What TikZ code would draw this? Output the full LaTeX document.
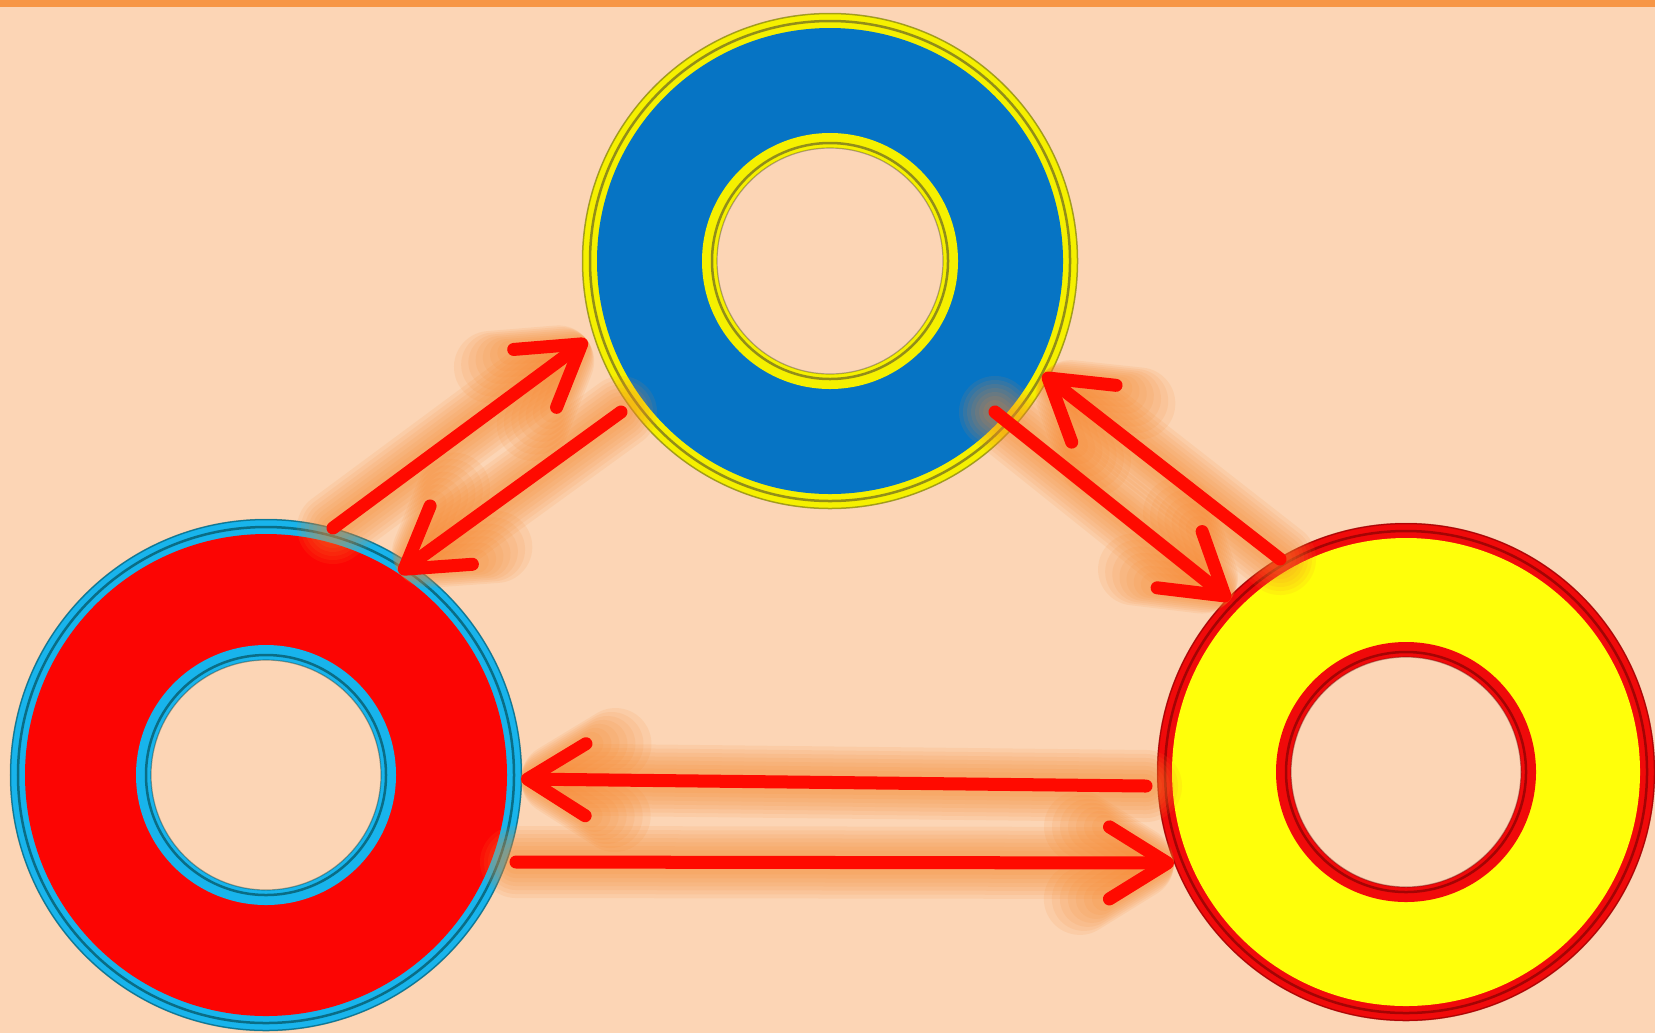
\documentclass[tikz,border=0pt]{standalone}
\usetikzlibrary{arrows.meta}
\definecolor{bgpeach}{HTML}{FCD5B5}
\definecolor{topbar}{HTML}{F79646}
\definecolor{ringblue}{HTML}{0674C4}
\definecolor{bandyellow}{HTML}{F5F000}
\definecolor{fillyellow}{HTML}{FFFF0A}
\definecolor{ringred}{HTML}{FC0503}
\definecolor{bandred}{HTML}{F00A0A}
\definecolor{bandcyan}{HTML}{18B4EC}
\definecolor{arrowred}{HTML}{FF0A00}
\definecolor{glowc}{HTML}{F7862A}
\newcommand\myring[8]{% name, center, R, ri, band colour, fill colour, dark line colour, hole colour
  \node[circle, inner sep=0pt, minimum size=#3*0.02cm] (#1) at (#2) {};
  \fill[#5] (#2) circle[radius=#3];
  \draw[#7, line width=0.015cm, opacity=0.45] (#2) circle[radius=#3-0.5];
  \draw[#7, line width=0.025cm, opacity=0.55] (#2) circle[radius=#3-8];
  \fill[#6] (#2) circle[radius=#3-15];
  \fill[#5] (#2) circle[radius=#4];
  \draw[#7, line width=0.025cm, opacity=0.55] (#2) circle[radius=#4-10];
  \fill[#8] (#2) circle[radius=#4-15];
  \draw[#7, line width=0.012cm, opacity=0.4] (#2) circle[radius=#4-15];
}
\tikzset{
  tipstyle/.style={-{Straight Barb[length=0.58cm, width=0.72cm, round]}},
  arr/.style={arrowred, line width=0.13cm, line cap=round, tipstyle},
  glowlayer/.style={glowc, line width=#1, opacity=0.10, line cap=round, tipstyle},
}
\newcommand\glowarrow[2]{%
  \foreach \w in {0.72cm,0.64cm,0.56cm,0.48cm,0.40cm,0.32cm,0.24cm}{
    \draw[glowlayer=\w] (#1) -- (#2);
  }
}
\begin{document}
\begin{tikzpicture}[x=0.01cm, y=-0.01cm]
  \fill[bgpeach] (0,0) rectangle (1655,1033);
  \fill[topbar] (0,0) rectangle (1655,7);
  \useasboundingbox (0,0) rectangle (1655,1033);

  \myring{top}{830,261}{248}{128}{bandyellow}{ringblue}{black!70!olive}{bgpeach}
  \myring{left}{266,775}{256}{130}{bandcyan}{ringred}{black!60!teal}{bgpeach}
  \myring{right}{1406,772}{249}{130}{bandred}{fillyellow}{black!60!red}{bgpeach}

  % arrow end points
  \coordinate (a1s) at (333,528);  \coordinate (a1e) at (587,340);
  \coordinate (a2s) at (621,412);  \coordinate (a2e) at (399,573);
  \coordinate (a3s) at (1280,559); \coordinate (a3e) at (1043,374);
  \coordinate (a4s) at (995,412);  \coordinate (a4e) at (1230,600);
  \coordinate (a5s) at (1146,786); \coordinate (a5e) at (521,779);
  \coordinate (a6s) at (516,862);  \coordinate (a6e) at (1174,863);

  \glowarrow{a1s}{a1e}
  \glowarrow{a2s}{a2e}
  \glowarrow{a3s}{a3e}
  \glowarrow{a4s}{a4e}
  \glowarrow{a5s}{a5e}
  \glowarrow{a6s}{a6e}

  \draw[arr] (a1s) -- (a1e);
  \draw[arr] (a2s) -- (a2e);
  \draw[arr] (a3s) -- (a3e);
  \draw[arr] (a4s) -- (a4e);
  \draw[arr] (a5s) -- (a5e);
  \draw[arr] (a6s) -- (a6e);
\end{tikzpicture}
\end{document}
